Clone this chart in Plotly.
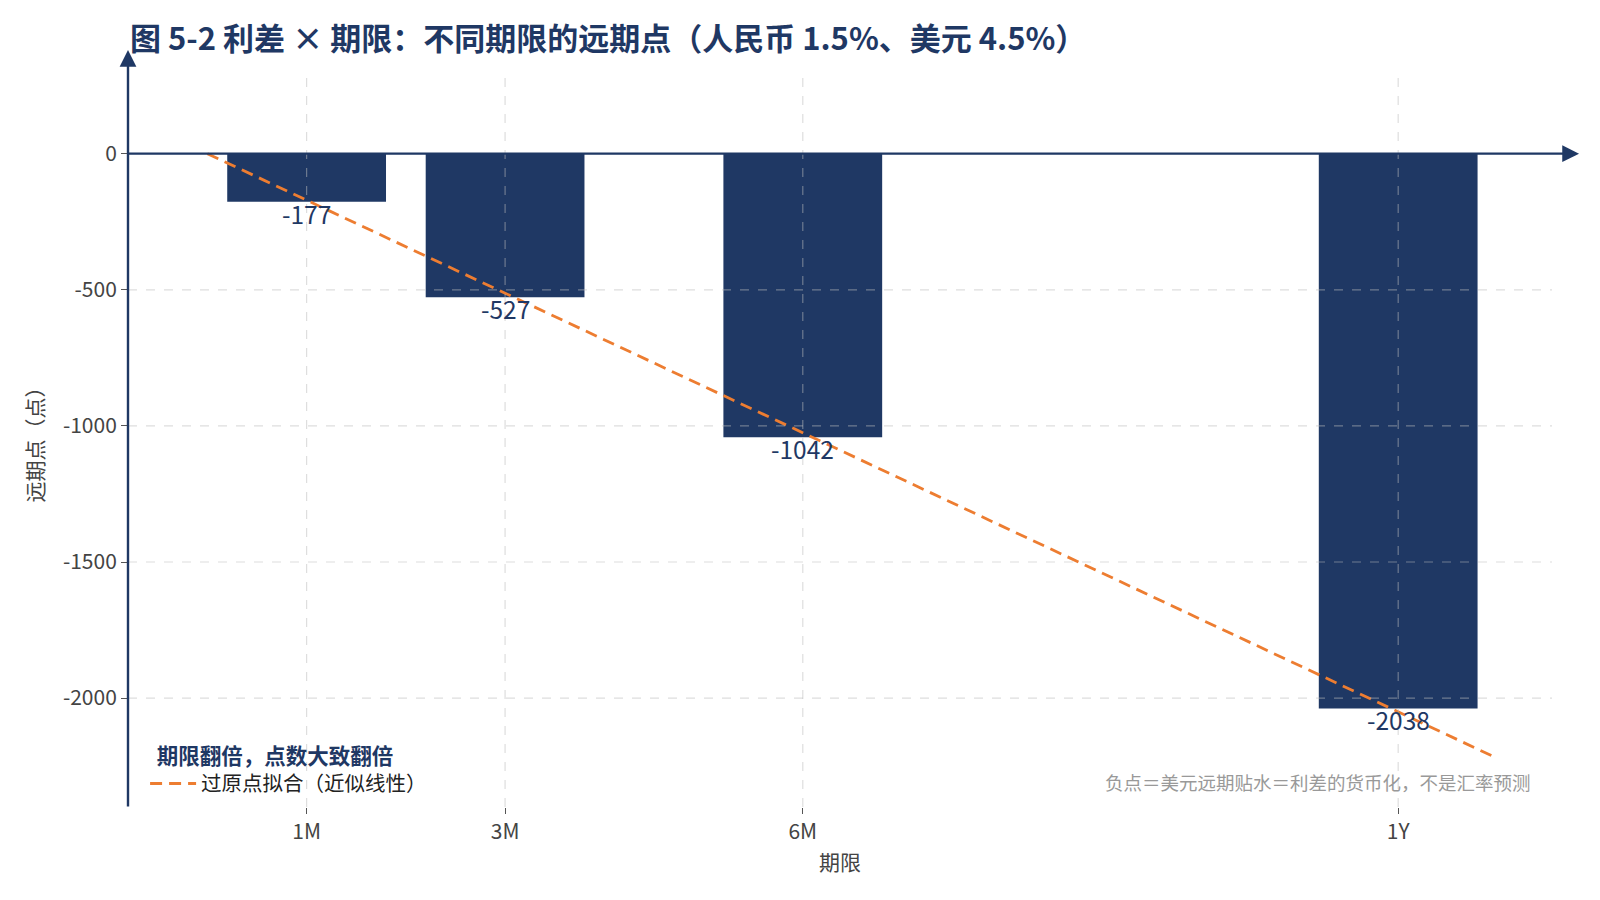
import plotly.graph_objects as go

# 期限（月）与远期点
tenor_months = [1, 3, 6, 12]
tenor_labels = ["1M", "3M", "6M", "1Y"]
fwd_points = [-177, -527, -1042, -2038]
y_ticks = [0, -500, -1000, -1500, -2000]
y_tick_labels = ["0", "-500", "-1000", "-1500", "-2000"]

# 过原点拟合：slope = sum(xy) / sum(x^2)
slope = sum(x * y for x, y in zip(tenor_months, fwd_points)) / sum(x * x for x in tenor_months)
fit_x = [0, 13]
fit_y = [slope * x for x in fit_x]

navy = "#1f3864"
orange = "#ed7d31"
font_cn = "Noto Sans CJK SC"
grid_col = "rgba(190,190,190,0.5)"

fig = go.Figure()

fig.add_trace(go.Bar(
    x=tenor_months,
    y=fwd_points,
    width=1.6,
    marker=dict(color=navy, line=dict(width=0)),
    showlegend=False,
))

fig.add_trace(go.Scatter(
    x=fit_x,
    y=fit_y,
    mode="lines",
    name="过原点拟合（近似线性）",
    line=dict(color=orange, width=2.8, dash="12px,7px"),
))

# 柱底数值
for t, v in zip(tenor_months, fwd_points):
    fig.add_annotation(x=t, y=v, text=str(v), showarrow=False,
                       yanchor="top", yshift=8,
                       font=dict(size=24.5, color=navy, family=font_cn))

# 网格线画在柱子上方
for t in tenor_months:
    fig.add_shape(type="line", xref="x", yref="paper", x0=t, x1=t, y0=0, y1=1,
                  layer="above", line=dict(color=grid_col, width=1.2, dash="dash"))
for t in y_ticks[1:]:
    fig.add_shape(type="line", xref="paper", yref="y", x0=0, x1=1, y0=t, y1=t,
                  layer="above", line=dict(color=grid_col, width=1.2, dash="dash"))

# 坐标轴箭头
fig.add_annotation(xref="paper", yref="y", x=1.019, y=0, ax=-1452, ay=0,
                   showarrow=True, arrowhead=2, arrowsize=1.4, arrowwidth=2.4,
                   arrowcolor=navy, text="")
fig.add_annotation(xref="paper", yref="paper", x=0, y=1.03, ax=0, ay=758,
                   showarrow=True, arrowhead=2, arrowsize=1.4, arrowwidth=2.4,
                   arrowcolor=navy, text="")

fig.add_annotation(xref="paper", yref="paper", x=0.987, y=0.034,
                   xanchor="right", yanchor="middle", showarrow=False,
                   text="负点＝美元远期贴水＝利差的货币化，不是汇率预测",
                   font=dict(size=18.5, color="#999999", family=font_cn))

fig.update_layout(
    width=1600, height=900,
    paper_bgcolor="white", plot_bgcolor="white",
    font=dict(family=font_cn, color="#444444", size=21),
    margin=dict(l=120, r=56, t=64, b=101),
    title=dict(
        text="<b>图 5-2 利差 × 期限：不同期限的远期点（人民币 1.5%、美元 4.5%）</b>",
        x=122 / 1600, xanchor="left", y=1 - 31 / 900, yanchor="middle",
        font=dict(size=31, color=navy, family=font_cn),
    ),
    legend=dict(
        x=0.012, y=0.097, xanchor="left", yanchor="top",
        bgcolor="rgba(0,0,0,0)", tracegroupgap=0, itemwidth=46,
        title=dict(text="&nbsp;&nbsp;<b>期限翻倍，点数大致翻倍</b>",
                   font=dict(size=21.5, color=navy, family=font_cn), side="top"),
        font=dict(size=20.5, color="#222222", family=font_cn),
    ),
    xaxis=dict(
        range=[-0.8, 13.55],
        tickvals=tenor_months, ticktext=tenor_labels,
        showgrid=False, zeroline=False, showline=False,
        ticks="outside", ticklen=6, tickcolor="#555555",
        tickfont=dict(size=21),
        title=dict(text="期限", font=dict(size=21, color="#444444"), standoff=11),
    ),
    yaxis=dict(
        range=[-2400, 300],
        tickvals=y_ticks, ticktext=y_tick_labels,
        showgrid=False, zeroline=False, showline=False,
        ticks="outside", ticklen=6, tickcolor="#555555",
        tickfont=dict(size=21),
        title=dict(text="远期点（点）", font=dict(size=21, color="#444444"), standoff=13),
    ),
)

fig.write_html("out.html")
